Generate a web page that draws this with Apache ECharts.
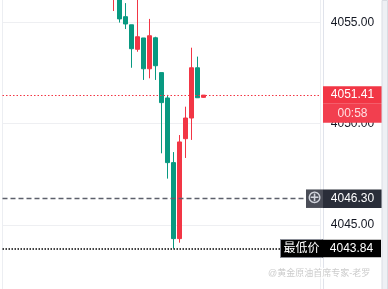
<!DOCTYPE html>
<html><head><meta charset="utf-8">
<script src="https://cdn.jsdelivr.net/npm/echarts@6/dist/echarts.min.js"></script>
<style>html,body{margin:0;padding:0;background:#fff}#c{width:388px;height:289px}</style>
</head><body><div id="c"></div>
<script>
// ---- data ----
const slotCount = 53;          // category slots on the x axis
const firstCandleSlot = 18;    // slot index of the first visible candle
const opens  = [4056.30,4056.40,4055.28,4054.88,4053.67,4054.23,4052.71,4054.24,4052.52,4051.27,4048.08,4044.33,4049.26,4050.28,4052.76,4051.30];
const closes = [4056.70,4055.17,4054.92,4053.70,4054.29,4052.71,4054.34,4052.86,4051.04,4048.08,4044.33,4049.10,4050.28,4052.76,4051.28,4051.41];
const lows   = [4055.56,4054.99,4054.67,4052.76,4053.55,4052.16,4052.24,4052.16,4048.54,4047.29,4043.84,4044.13,4048.31,4049.20,4051.28,4051.28];
const highs  = [4056.90,4056.60,4055.95,4054.88,4056.20,4054.23,4055.17,4054.29,4052.52,4051.42,4048.60,4049.44,4050.84,4053.75,4053.31,4051.41];
const lastPrice = 4051.41;
const countdown = '00:58';
const crossPrice = 4046.30;
const lowPrice = 4043.84;
const lowLabel = '最低价';
const yMin = 4041.845, yMax = 4056.103;
const yTickValues = [4045, 4050, 4055];
const watermark = '@黄金原油首席专家-老罗';

// ---- build ----
const categories = [];
const candleData = [];
for (let i = 0; i < slotCount; i++) {
  categories.push('K' + i);
  const j = i - firstCandleSlot;
  if (j >= 0 && j < opens.length) candleData.push([opens[j], closes[j], lows[j], highs[j]]);
  else candleData.push('-');
}
const UP = '#f23645', DOWN = '#089981';
const FONT = 'Liberation Sans, Arial, Noto Sans CJK SC, sans-serif';

const chart = echarts.init(document.getElementById('c'), null, {renderer: 'canvas'});
chart.setOption({
  animation: false,
  backgroundColor: '#ffffff',
  title: {
    text: watermark, left: 268, top: 269, padding: 0,
    textStyle: {fontSize: 9, fontWeight: 'normal', color: 'rgba(185,185,185,0.75)', fontFamily: FONT,
      textBorderColor: '#ffffff', textBorderWidth: 2}
  },
  graphic: [{type: 'rect', right: 0, top: 0, shape: {width: 5.5, height: 289},
    style: {fill: '#eef0f4', stroke: '#d9dce3', lineWidth: 1}, silent: true, z: 100}],
  grid: {left: 2.5, right: 67.5, top: 0, bottom: 0},
  xAxis: {
    type: 'category', data: categories, boundaryGap: true,
    axisLine: {show: false}, axisTick: {show: false}, axisLabel: {show: false},
    splitLine: {show: true, interval: function (i) { return i === 1; }, lineStyle: {color: '#eceef2'}}
  },
  yAxis: {
    type: 'value', position: 'right', offset: 2.5, min: yMin, max: yMax,
    axisLine: {show: true, lineStyle: {color: '#e0e3eb'}},
    axisTick: {show: false, customValues: yTickValues},
    axisLabel: {margin: 29.5, align: 'center', color: '#131722', fontSize: 12, fontFamily: FONT,
      customValues: yTickValues,
      formatter: function (v) { return v.toFixed(2); }},
    splitLine: {show: true, lineStyle: {color: '#eeeff2'}}
  },
  series: [{
    type: 'candlestick', data: candleData, barWidth: 4,
    itemStyle: {color: UP, color0: DOWN, borderColor: UP, borderColor0: DOWN, borderWidth: 1},
    markLine: {
      silent: true, symbol: ['none', 'none'], animation: false,
      data: [
        {yAxis: lastPrice, lineStyle: {color: UP, type: [1.5, 2], width: 1},
          label: {show: true, position: 'end', distance: 32, align: 'center', verticalAlign: 'middle',
            formatter: '{s| }\n{a|' + lastPrice.toFixed(2) + '}\n{b|' + countdown + '}',
            rich: {
              s: {height: 19, width: 59},
              a: {height: 17.5, width: 59, align: 'center', backgroundColor: UP, color: '#ffffff', fontSize: 12, fontFamily: FONT},
              b: {height: 19, width: 59, align: 'center', backgroundColor: '#f23f4f', color: '#ffdfe2', fontSize: 12, fontFamily: FONT}
            }}},
        {yAxis: crossPrice, lineStyle: {color: '#5d606b', type: [5, 3], width: 1.3},
          label: {show: true, position: 'end', distance: 23.5, align: 'center', verticalAlign: 'middle',
            formatter: '{i|⊕}{p|' + crossPrice.toFixed(2) + '}',
            rich: {
              i: {height: 18.5, width: 17, align: 'center', backgroundColor: '#4a4d57', color: '#d1d4dc', fontSize: 18, fontFamily: 'DejaVu Sans'},
              p: {height: 18.5, width: 59, align: 'center', backgroundColor: '#2a2e39', color: '#ffffff', fontSize: 12, fontFamily: FONT}
            }}},
        {yAxis: lowPrice, lineStyle: {color: '#000000', type: [1.5, 1.5], width: 1.5},
          label: {show: true, position: 'end', distance: 10.5, align: 'center', verticalAlign: 'middle',
            formatter: '{t|' + lowLabel + '}{p|' + lowPrice.toFixed(2) + '}',
            rich: {
              t: {height: 17, width: 41, align: 'center', backgroundColor: '#000000', borderColor: '#8a8d96', borderWidth: 1, color: '#ffffff', fontSize: 12, fontFamily: FONT},
              p: {height: 17.5, width: 59, align: 'center', backgroundColor: '#000000', color: '#ffffff', fontSize: 12, fontFamily: FONT}
            }}}
      ]
    }
  }]
});
</script></body></html>
